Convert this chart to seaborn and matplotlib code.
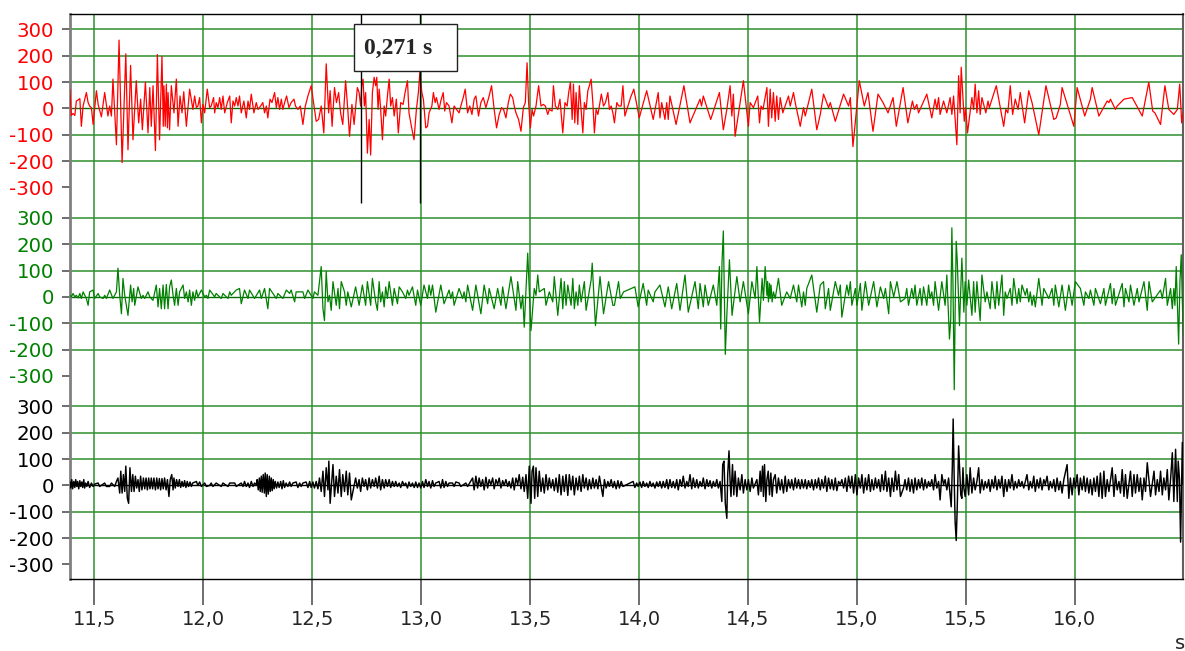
import numpy as np
import matplotlib
matplotlib.use("Agg")
import matplotlib.pyplot as plt
import seaborn as sns
from matplotlib.patches import Rectangle

# ---- readings taken from the recording (time in s, amplitude) ----
red_time = [11.387, 11.394, 11.402, 11.410, 11.417, 11.425, 11.433, 11.440, 11.448, 11.463, 11.471, 11.478, 11.486, 11.494, 11.509, 11.517, 11.532, 11.547, 11.562, 11.570, 11.578, 11.585, 11.601, 11.613, 11.627, 11.644, 11.654, 11.666, 11.677, 11.692, 11.703, 11.712, 11.720, 11.734, 11.746, 11.754, 11.761, 11.769, 11.780, 11.789, 11.799, 11.810, 11.816, 11.819, 11.825, 11.830, 11.835, 11.838, 11.845, 11.853, 11.865, 11.876, 11.884, 11.893, 11.902, 11.910, 11.922, 11.937, 11.952, 11.960, 11.968, 11.975, 11.983, 11.991, 11.998, 12.006, 12.018, 12.029, 12.036, 12.047, 12.052, 12.059, 12.067, 12.075, 12.082, 12.090, 12.098, 12.110, 12.121, 12.128, 12.136, 12.144, 12.151, 12.159, 12.166, 12.174, 12.186, 12.197, 12.205, 12.212, 12.220, 12.232, 12.243, 12.251, 12.263, 12.273, 12.281, 12.289, 12.296, 12.306, 12.315, 12.327, 12.335, 12.342, 12.350, 12.358, 12.365, 12.373, 12.382, 12.393, 12.403, 12.416, 12.423, 12.434, 12.445, 12.457, 12.468, 12.480, 12.495, 12.510, 12.518, 12.529, 12.541, 12.553, 12.564, 12.575, 12.582, 12.591, 12.602, 12.611, 12.621, 12.630, 12.640, 12.653, 12.663, 12.671, 12.682,
            12.692, 12.707, 12.715, 12.722, 12.727, 12.733, 12.739, 12.745, 12.753, 12.761, 12.768, 12.776, 12.784, 12.791, 12.796, 12.802, 12.807, 12.814, 12.822, 12.830, 12.837, 12.845, 12.853, 12.860, 12.868, 12.876, 12.886, 12.895, 12.906, 12.917, 12.926, 12.937, 12.944, 12.955, 12.967, 12.978, 12.987, 12.994, 13.003, 13.010, 13.021, 13.029, 13.036, 13.049, 13.056, 13.064, 13.070, 13.082, 13.090, 13.101, 13.108, 13.116, 13.128, 13.141, 13.151, 13.162, 13.174, 13.182, 13.193, 13.202, 13.213, 13.223, 13.233, 13.243, 13.251, 13.263, 13.274, 13.285, 13.297, 13.312, 13.323, 13.335, 13.346, 13.358, 13.369, 13.378, 13.389, 13.400, 13.409, 13.420, 13.427, 13.435, 13.447, 13.458, 13.469, 13.478, 13.486, 13.493, 13.501, 13.509, 13.516, 13.527, 13.539, 13.550, 13.561, 13.570, 13.581, 13.588, 13.601, 13.607, 13.616, 13.627, 13.637, 13.650, 13.660, 13.670, 13.677, 13.685, 13.693, 13.699, 13.705, 13.711, 13.719, 13.726, 13.734, 13.742, 13.749, 13.757, 13.765, 13.772, 13.780, 13.788, 13.795, 13.803, 13.811, 13.818, 13.827, 13.837, 13.846, 13.857, 13.864, 13.872, 13.880, 13.887, 13.898, 13.907, 13.918, 13.926,
            13.935, 13.961, 13.976, 14.001, 14.035, 14.065, 14.088, 14.096, 14.104, 14.119, 14.127, 14.134, 14.142, 14.170, 14.206, 14.234, 14.280, 14.287, 14.295, 14.329, 14.369, 14.387, 14.403, 14.418, 14.426, 14.433, 14.441, 14.479, 14.502, 14.510, 14.525, 14.545, 14.553, 14.560, 14.569, 14.587, 14.594, 14.602, 14.609, 14.617, 14.625, 14.632, 14.640, 14.648, 14.660, 14.686, 14.694, 14.709, 14.717, 14.740, 14.755, 14.763, 14.793, 14.816, 14.832, 14.847, 14.870, 14.878, 14.901, 14.939, 14.962, 14.970, 14.982, 15.011, 15.034, 15.051, 15.074, 15.097, 15.120, 15.143, 15.166, 15.181, 15.212,
            15.234, 15.255, 15.264, 15.275, 15.283, 15.321, 15.344, 15.359, 15.367, 15.375, 15.382, 15.398, 15.413, 15.428, 15.436, 15.444, 15.459, 15.467, 15.474, 15.479, 15.493, 15.499, 15.508, 15.528, 15.536, 15.543, 15.551, 15.559, 15.566, 15.574, 15.592, 15.602, 15.608, 15.640, 15.674, 15.684, 15.693, 15.704, 15.715, 15.727, 15.740, 15.750, 15.770, 15.789, 15.804, 15.835, 15.868, 15.904, 15.915, 15.934, 15.942, 15.996, 16.011, 16.046, 16.072, 16.080, 16.111, 16.149, 16.157, 16.164, 16.187, 16.195, 16.226, 16.264, 16.310, 16.328, 16.340, 16.358, 16.368, 16.394, 16.414, 16.432, 16.455, 16.471, 16.482, 16.491, 16.506]
red_amp = [73, -27, -19, -27, 28, 32, 37, -68, 9, 60, 22, 9, 3, -61, 67, 15, -32, 60, -29, 9, -29, 111, -138, 259, -206, 207, -157, 163, -119, 105, -55, 35, -81, 99, -93, 79, -68, 86, -160, 204, -119, 197, -68, 86, -68, 92, -74, 60, -81, 86, -17, 111, -68, 47, -17, 63, -68, 73, -4, 47, 3, 9, 41, -55, 15, -17, 73, 3, 9, 41, -17, 22, 3, 41, -4, 47, -17, 22, 47, -55, 28, 9, 41, 9, 47, -17, 28, -36, 28, -4, 54, -17, 22, -4, 9, 22, -17, 9, -36, 35, 22, 60, 3, 41, -4, 35, -4, 22, 47, 3, 22, 35, 9, -4, 9, -61, 9, 47, 86, -4, -49, -42, 9, -93, 169, -17, 67, -68, 79, 22, 60, -17, -61, 105, -4, -106, 15,
           -61, 79, 60, 9, 86, 111, 9, 60, -170, -42, -177, 60, 118, 86, 118, -4, 73, -4, -119, 9, -29, 47, 111, 9, 41, -29, 35, -93, 22, 15, 60, 105, -17, -68, -119, -4, 60, 137, 60, 35, -74, -68, -17, 9, 60, 22, 41, -4, 28, 60, -10, 22, 9, -55, 9, -4, -17, 9, 41, 73, -17, 9, -23, 35, 47, -29, 22, 41, 3, 47, 86, -4, -74, -23, 3, -4, -36, 22, 54, 41, 9, -17, -42, -87, 3, 22, 173, 22, -74, -4, -29, 9, 86, 9, 15, 9, -23, -4, -10, 86, 9, -4, 35, -93, 22, 9, 60, 99, -42, 92, -55, 60, -61, 86, -4, -93, 22, -4, 67, 86, 111, 22, -93, -4, -23, 9, 54, 9, 22, 60, -4, 9, -17, -55, 22, 9, 9, 86,
           -29, 41, 73, -36, 67, -42, 60, -36, 22, -42, 22, -42, 47, -61, 86, -55, 35, 9, 47, -42, 60, -81, -4, 86, -29, 54, -106, 105, -68, 22, 3, 47, -55, 9, -4, 79, -68, 73, -36, 60, -49, 47, -42, 41, -17, 47, 9, 60, 22, -68, 3, -29, 73, -81, -23, 54, 3, 22, -49, 54, 9, 41, -145, 105, 9, 60, -87, 54, 22, -17, 41, -68, 79,
           -55, 28, -4, 15, -17, 54, -36, 35, -4, 41, -23, 28, -17, 41, -23, 47, -138, 124, -17, 156, -49, 3, -93, 41, -4, 92, -17, 67, -23, 41, -17, 28, 3, 86, -68, -4, -17, 86, -23, 35, -4, 60, -55, 67, 22, -100, 86, -42, -36, 15, 79, -68, 79, -29, 35, 79, -29, 28, 22, 35, -4, 9, 35, 41, -29, 47, 99, -10, -17, -61, 86, -4, -23, -4, 92, -55, 28]

green_time = [11.387, 11.394, 11.402, 11.410, 11.417, 11.425, 11.433, 11.440, 11.448, 11.463, 11.471, 11.478, 11.494, 11.501, 11.517, 11.524, 11.540, 11.547, 11.555, 11.570, 11.585, 11.601, 11.608, 11.616, 11.624, 11.631, 11.639, 11.654, 11.666, 11.673, 11.680, 11.685, 11.700, 11.715, 11.723, 11.731, 11.746, 11.754, 11.769, 11.784, 11.792, 11.799, 11.807, 11.815, 11.822, 11.830, 11.838, 11.845, 11.853, 11.861, 11.868, 11.876, 11.884, 11.891, 11.907, 11.914, 11.922, 11.930, 11.937, 11.945, 11.952, 11.960, 11.968, 11.975, 11.991, 12.006, 12.014, 12.021, 12.029, 12.052, 12.059, 12.082, 12.090, 12.113, 12.121, 12.128, 12.151, 12.166, 12.174, 12.189, 12.205, 12.212, 12.235, 12.258, 12.266, 12.281, 12.296, 12.304, 12.335, 12.342, 12.365, 12.381, 12.396, 12.403, 12.419, 12.426, 12.457, 12.465, 12.480, 12.503, 12.510, 12.526, 12.533, 12.541, 12.549, 12.556, 12.564, 12.572, 12.579, 12.587, 12.595, 12.610, 12.618, 12.625, 12.633, 12.648, 12.656, 12.663, 12.679,
              12.699, 12.715, 12.730, 12.745, 12.753, 12.768, 12.776, 12.791, 12.799, 12.807, 12.814, 12.822, 12.830, 12.837, 12.845, 12.853, 12.868, 12.876, 12.891, 12.899, 12.914, 12.929, 12.937, 12.944, 12.960, 12.975, 12.983, 12.998, 13.013, 13.029, 13.036, 13.044, 13.052, 13.067, 13.090, 13.105, 13.128, 13.136, 13.144, 13.151, 13.174, 13.190, 13.197, 13.205, 13.213, 13.236, 13.251, 13.274, 13.289, 13.305, 13.312, 13.335, 13.351, 13.366, 13.374, 13.389, 13.412, 13.435, 13.443, 13.458, 13.466, 13.473, 13.489, 13.504, 13.519, 13.527, 13.535, 13.542, 13.565, 13.573, 13.588, 13.604, 13.611, 13.627, 13.642, 13.650, 13.657, 13.665, 13.673, 13.688, 13.696, 13.703, 13.711, 13.719, 13.726, 13.734, 13.749, 13.757, 13.780, 13.785, 13.800, 13.821, 13.837, 13.860, 13.880, 13.887, 13.906, 13.914, 13.929,
              13.981, 13.996, 14.019, 14.035, 14.042, 14.065, 14.073, 14.096, 14.119, 14.134, 14.150, 14.173, 14.188, 14.211, 14.226, 14.257, 14.272, 14.280, 14.295, 14.303, 14.318, 14.341, 14.357, 14.369, 14.375, 14.381, 14.387, 14.396, 14.403, 14.415, 14.427, 14.449, 14.464, 14.479, 14.502, 14.518, 14.533, 14.541, 14.553, 14.565, 14.571, 14.579, 14.587, 14.590, 14.594, 14.599, 14.602, 14.606, 14.611, 14.617, 14.625, 14.640, 14.655, 14.678, 14.694, 14.709, 14.724, 14.732, 14.747, 14.755, 14.763, 14.770, 14.793, 14.816, 14.832, 14.847, 14.855, 14.870, 14.878, 14.901, 14.916, 14.924, 14.931, 14.954, 14.962, 14.970, 14.977, 14.993, 15.000, 15.016, 15.023, 15.039, 15.054, 15.077, 15.092, 15.108, 15.123, 15.131, 15.146, 15.154, 15.169, 15.184, 15.200,
              15.221, 15.229, 15.237, 15.252, 15.260, 15.267, 15.275, 15.290, 15.298, 15.306, 15.321, 15.329, 15.336, 15.344, 15.352, 15.359, 15.375, 15.390, 15.405, 15.413, 15.425, 15.431, 15.436, 15.441, 15.447, 15.451, 15.456, 15.461, 15.471, 15.482, 15.491, 15.497, 15.505, 15.513, 15.528, 15.536, 15.543, 15.551, 15.566, 15.574, 15.589, 15.597, 15.612, 15.620, 15.635, 15.643, 15.651, 15.666, 15.674, 15.681, 15.689, 15.704, 15.712, 15.720, 15.735, 15.743, 15.750, 15.758, 15.773, 15.781, 15.789, 15.796, 15.804, 15.812, 15.819, 15.835, 15.850, 15.858, 15.881, 15.896, 15.904, 15.911, 15.927, 15.942, 15.957, 15.973, 15.988, 16.003, 16.026, 16.042, 16.049, 16.065, 16.072, 16.088, 16.095, 16.118, 16.134, 16.141, 16.164, 16.172, 16.180, 16.187, 16.218, 16.226, 16.233, 16.249, 16.256, 16.272, 16.287, 16.295, 16.318, 16.333, 16.341, 16.356, 16.394, 16.402, 16.417, 16.425, 16.440, 16.448, 16.455, 16.460, 16.466, 16.477, 16.483, 16.489, 16.498, 16.503]
green_amp = [6, 0, 13, 0, 6, -4, 13, -6, 19, -6, -32, 19, 26, -6, 13, 0, -6, 6, -6, 26, -6, 19, 109, 6, -64, 70, 6, -70, 45, -19, 32, -32, 38, -6, 6, -6, 19, 0, -13, 45, -38, 32, -45, 45, -45, 47, -45, 38, 64, 6, -32, 32, -32, 19, 45, -6, 19, -19, 26, -32, 19, -13, 26, 0, 26, 0, 6, -6, 26, 0, 13, -6, 13, -6, 19, 6, 26, 32, -26, 26, -6, 26, -6, 26, -6, 32, -45, 32, -6, 13, -6, 26, 13, 26, -19, 19, 19, -6, 26, -6, 19, 6, 58, 115, -45, -90, 96, -19, 6, -51, 58, -32, 32, -45, 58, 19, -32, 19, -38,
             38, -32, 45, -32, 58, -32, 70, -19, -51, 58, -19, 19, -38, 38, -6, 58, -32, 32, -26, 38, 19, -6, 26, 6, 38, -32, 26, -32, 45, -6, 45, 6, 45, -58, 45, -26, 26, -6, 19, -32, 32, -6, 19, -19, 45, -51, 45, -64, 45, -26, 32, -45, 32, -32, 38, -45, 77, -51, 58, -45, 6, -115, 166, -128, 32, 6, 83, 19, 32, -32, 19, -19, 77, -70, 70, -45, 58, -32, 45, -32, 70, -45, 19, -32, 45, -19, 58, -51, 64, 128, -109, 77, -64, 58, -32, -32, 58, -6, 19,
             38, -38, 51, -32, 26, -19, 19, 45, -38, 38, -45, 51, -51, 83, -58, 58, -45, 51, -38, 45, -32, 45, -32, 115, -122, 134, 250, -218, -70, 141, -70, 77, -19, 58, -64, 58, -6, 115, -96, 70, -13, 115, 6, 58, -19, 51, -6, 45, -19, 19, -6, 70, -32, 19, -6, 45, -19, 45, -38, 19, -32, 32, 83, -58, 45, 58, -45, 32, -51, 58, 6, 45, -77, 45, 6, 58, -32, 32, -32, 51, -51, 58, -32, 58, -38, 38, -6, 32, -64, 58, 0, 58, -19,
             -6, 32, -32, 32, -6, 45, -32, 32, -32, 38, -32, 45, -6, 19, -32, 58, -51, 58, -32, 83, -160, -83, 262, 58, -352, -58, 211, 134, -109, 147, -58, 58, -32, 64, -70, 58, -58, 58, -90, 83, -19, 19, -45, 58, -45, 58, -32, 83, -70, 19, -6, 32, -32, 70, -26, 32, -19, 45, 6, 32, -19, 19, -32, 6, -38, 70, -32, 32, -6, 32, -32, 45, -38, 45, -51, 45, -32, 58, 32, -32, 19, -6, 26, -32, 32, -26, 32, -32, 51, -26, 32, -32, 51, -38, 32, -19, 45, -32, 32, -19, 58, -51, 58, -19, 26, -6, 70, -32, 32, -45, 32, -32, 115, -179, 58, 160, -147, 58]

black_time = [11.387, 11.391, 11.396, 11.400, 11.405, 11.410, 11.414, 11.419, 11.423, 11.428, 11.433, 11.437, 11.442, 11.446, 11.451, 11.455, 11.460, 11.465, 11.471, 11.478, 11.486, 11.494, 11.501, 11.517, 11.524, 11.540, 11.547, 11.555, 11.570, 11.578, 11.593, 11.601, 11.608, 11.616, 11.621, 11.627, 11.633, 11.639, 11.644, 11.651, 11.657, 11.663, 11.670, 11.676, 11.682, 11.688, 11.694, 11.700, 11.706, 11.712, 11.718, 11.725, 11.731, 11.737, 11.743, 11.749, 11.755, 11.761, 11.767, 11.773, 11.780, 11.786, 11.792, 11.798, 11.804, 11.810, 11.816, 11.822, 11.829, 11.835, 11.842, 11.848, 11.855, 11.861, 11.865, 11.871, 11.877, 11.884, 11.890, 11.896, 11.902, 11.908, 11.914, 11.920, 11.926, 11.932, 11.939, 11.945, 11.951, 11.968, 11.975, 11.983, 11.991, 12.006, 12.014, 12.029, 12.036, 12.044, 12.059, 12.082, 12.090, 12.113, 12.121, 12.144, 12.151, 12.174, 12.182, 12.189, 12.197, 12.205, 12.212, 12.220, 12.228, 12.235, 12.243, 12.247, 12.252, 12.257, 12.261, 12.266, 12.270, 12.275, 12.280, 12.284, 12.289, 12.293, 12.298, 12.303, 12.307, 12.312, 12.316, 12.321, 12.325, 12.330, 12.336, 12.342, 12.348, 12.355, 12.361, 12.367, 12.373, 12.380, 12.388, 12.396, 12.403, 12.411, 12.426, 12.434, 12.442, 12.449, 12.457, 12.472, 12.480, 12.488, 12.495, 12.503, 12.510, 12.518, 12.526, 12.533, 12.541, 12.549, 12.556, 12.564, 12.572, 12.576, 12.582, 12.595, 12.602, 12.610, 12.618, 12.625, 12.633, 12.640, 12.648, 12.656, 12.663, 12.671, 12.679,
              12.699, 12.707, 12.715, 12.722, 12.730, 12.738, 12.745, 12.753, 12.761, 12.768, 12.776, 12.784, 12.791, 12.799, 12.807, 12.814, 12.822, 12.830, 12.837, 12.845, 12.853, 12.860, 12.868, 12.876, 12.883, 12.891, 12.899, 12.906, 12.914, 12.922, 12.929, 12.937, 12.944, 12.952, 12.960, 12.968, 12.975, 12.983, 12.990, 12.998, 13.006, 13.013, 13.021, 13.029, 13.036, 13.044, 13.052, 13.059, 13.067, 13.082, 13.090, 13.098, 13.105, 13.113, 13.121, 13.128, 13.144, 13.151, 13.159, 13.174, 13.182, 13.205, 13.213, 13.236, 13.243, 13.251, 13.259, 13.266, 13.274, 13.282, 13.289, 13.297, 13.305, 13.312, 13.320, 13.328, 13.335, 13.343, 13.351, 13.358, 13.366, 13.374, 13.381, 13.389, 13.397, 13.404, 13.412, 13.420, 13.427, 13.435, 13.443, 13.450, 13.458, 13.466, 13.473, 13.481, 13.489, 13.496, 13.504, 13.509, 13.515, 13.521, 13.527, 13.535, 13.542, 13.550, 13.558, 13.565, 13.573, 13.581, 13.588, 13.596, 13.604, 13.611, 13.619, 13.627, 13.634, 13.642, 13.650, 13.657, 13.665, 13.673, 13.680, 13.688, 13.696, 13.703, 13.711, 13.719, 13.726, 13.734, 13.742, 13.749, 13.757, 13.765, 13.772, 13.780, 13.788, 13.795, 13.803, 13.811, 13.818, 13.834, 13.841, 13.849, 13.857, 13.864, 13.872, 13.880, 13.887, 13.895, 13.903, 13.910, 13.918, 13.926,
              13.973, 13.981, 13.989, 13.996, 14.004, 14.012, 14.019, 14.027, 14.035, 14.042, 14.050, 14.058, 14.065, 14.073, 14.081, 14.088, 14.096, 14.104, 14.111, 14.119, 14.127, 14.134, 14.142, 14.150, 14.157, 14.165, 14.173, 14.180, 14.188, 14.196, 14.203, 14.211, 14.219, 14.226, 14.234, 14.242, 14.249, 14.257, 14.265, 14.272, 14.280, 14.288, 14.295, 14.303, 14.311, 14.318, 14.326, 14.334, 14.341, 14.349, 14.357, 14.364, 14.372, 14.380, 14.384, 14.390, 14.396, 14.403, 14.407, 14.413, 14.418, 14.422, 14.429, 14.435, 14.441, 14.449, 14.456, 14.464, 14.472, 14.479, 14.487, 14.495, 14.502, 14.510, 14.518, 14.525, 14.541, 14.548, 14.556, 14.560, 14.567, 14.571, 14.576, 14.582, 14.587, 14.593, 14.599, 14.605, 14.611, 14.617, 14.625, 14.632, 14.640, 14.648, 14.655, 14.663, 14.671, 14.678, 14.686, 14.694, 14.701, 14.709, 14.717, 14.724, 14.732, 14.740, 14.747, 14.755, 14.763, 14.770, 14.778, 14.786, 14.793, 14.801, 14.809, 14.816, 14.824, 14.832, 14.839, 14.847, 14.855, 14.862, 14.870, 14.878, 14.885, 14.893, 14.901, 14.908, 14.916, 14.924, 14.931, 14.939, 14.947, 14.954, 14.962, 14.970, 14.977, 14.985, 14.993, 15.000, 15.008, 15.016, 15.023, 15.031, 15.039, 15.046, 15.054, 15.062, 15.069, 15.077, 15.085, 15.092, 15.100, 15.108, 15.115, 15.123, 15.131, 15.138, 15.146, 15.154, 15.161, 15.169, 15.177, 15.184, 15.192, 15.200,
              15.214, 15.221, 15.229, 15.237, 15.244, 15.252, 15.260, 15.267, 15.275, 15.283, 15.290, 15.298, 15.306, 15.313, 15.321, 15.329, 15.336, 15.344, 15.352, 15.359, 15.367, 15.375, 15.382, 15.390, 15.398, 15.405, 15.413, 15.421, 15.428, 15.433, 15.438, 15.442, 15.447, 15.451, 15.456, 15.461, 15.467, 15.471, 15.477, 15.482, 15.487, 15.491, 15.497, 15.505, 15.513, 15.520, 15.528, 15.536, 15.543, 15.551, 15.559, 15.566, 15.574, 15.582, 15.589, 15.597, 15.605, 15.612, 15.620, 15.628, 15.635, 15.643, 15.651, 15.658, 15.666, 15.674, 15.681, 15.689, 15.697, 15.704, 15.712, 15.720, 15.727, 15.735, 15.743, 15.750, 15.758, 15.766, 15.781, 15.789, 15.796, 15.804, 15.812, 15.819, 15.827, 15.835, 15.842, 15.850, 15.858, 15.865, 15.873, 15.881, 15.888, 15.896, 15.904, 15.911, 15.919, 15.927, 15.934, 15.942, 15.950, 15.965, 15.973, 15.980, 15.988, 15.996, 16.003, 16.011, 16.019, 16.026, 16.034, 16.042, 16.049, 16.057, 16.065, 16.072, 16.080, 16.088, 16.095, 16.103, 16.111, 16.118, 16.126, 16.134, 16.141, 16.149, 16.157, 16.172, 16.180, 16.187, 16.195, 16.203, 16.210, 16.218, 16.226, 16.233, 16.241, 16.256, 16.264, 16.272, 16.279, 16.287, 16.295, 16.302, 16.310, 16.318, 16.325, 16.333, 16.348, 16.364, 16.371, 16.379, 16.387, 16.394, 16.402, 16.409, 16.417, 16.425, 16.432, 16.440, 16.448, 16.455, 16.463, 16.471, 16.475, 16.481, 16.486, 16.491, 16.494, 16.498, 16.503]
black_amp = [15, -10, 22, -13, 15, -8, 22, -4, 15, -13, 18, -4, 13, -8, 22, -10, 9, -4, 15, -8, 9, -4, 5, 9, -4, 5, 9, -4, -4, 9, -4, 15, 28, -29, 54, -29, 41, -23, 73, -49, -68, 67, -23, 41, -23, 35, -10, 22, -23, 35, -17, 28, -13, 28, -17, 28, -13, 28, -13, 28, -17, 28, -13, 26, -17, 26, -13, 28, -17, 22, -42, 22, 41, -17, 28, -10, 22, -4, 22, -8, 15, -4, 18, -8, 15, -4, 13, -4, 9, 15, 0, 13, -4, 9, -4, 0, 9, -4, 9, -4, 9, -4, 9, 9, -4, 9, -4, 15, -4, 9, -8, 15, -4, 9, 3, 22, -17, 28, -23, 35, -26, 41, -29, 47, -42, 41, -33, 35, -23, 28, -20, 22, -13, 15, -10, 13, -8, 15, -13, 18, -8, 9, -4, 13, -4, 9, 13, -8, 9, -4, 9, 13, -8, 15, -8, 13, -10, 15, -13, 28, -23, 54, -42, 67, -17, 92, -68, 79, -42, 35, -29, 60, -42, 41, -23, 54, -36, 47, -55,
             28, -10, 22, -23, 28, -4, 22, -17, 28, -10, 22, -4, 28, -10, 35, -17, 22, -10, 22, -4, 22, -8, 15, -4, 15, -4, 9, -8, 15, 0, 9, -10, 13, -4, 9, -8, 13, -8, 9, -10, 15, -8, 22, -4, 15, -10, 18, -4, 9, 15, -10, 22, -8, 15, -4, 9, 9, -4, 13, 9, -4, 9, -4, 28, -17, 35, -10, 28, -4, 22, -17, 31, -10, 22, 3, 28, -13, 22, 3, 28, -10, 18, 0, 22, -4, 15, -10, 28, -17, 28, 3, 41, -13, 31, -23, 41, -49, 73, -68, 54, 73, -49, 67, -42, 54, -23, 28, -29, 41, -17, 28, -10, 22, -20, 28, -26, 41, -36, 35, -23, 41, -38, 41, -17, 35, -36, 28, -17, 35, -23, 41, -10, 28, -17, 22, -13, 28, -10, 22, -13, 35, -42, 22, -10, 15, -4, 22, -8, 15, -13, 18, -10, 15, -4,
             15, -8, 9, -4, 13, -8, 15, -4, 9, -8, 15, -4, 9, -10, 13, -4, 15, -10, 15, -8, 22, -13, 22, -8, 15, -10, 22, -17, 22, -4, 35, -10, 15, -4, 41, -13, 28, -8, 22, -10, 15, -4, 28, -13, 22, -4, 18, -10, 15, -4, 22, -10, 15, -61, 79, 92, -68, -125, 41, 131, 15, -42, 79, -36, 54, -42, 28, -17, 41, -29, 22, -17, 22, -23, 28, -10, 22, -36, 54, -23, 73, -42, 79, -61, 22, 54, -36, 47, -42, 22, 41, -29, 28, -17, 22, -29, 35, -23, 22, -10, 22, -17, 28, -10, 22, -13, 22, -10, 22, -13, 18, -8, 22, -17, 22, -10, 28, -17, 22, -10, 35, -23, 28, -13, 22, -17, 28, -20, 15, 3, 22, -10, 28, -23, 35, -10, 35, -29, 41, -36, 28, -10, 41, -29, 28, -17, 41, -23, 22, -17, 28, -10, 22, -23, 41, -17, 54, -23, 28, -42, 28, -23, 54, -17, 41, -42,
             -10, 22, -17, 28, -23, 22, -29, 28, -17, 22, -10, 28, -17, 22, -10, 15, -4, 22, -17, 41, -10, 15, -55, 41, 3, 22, -17, 28, -36, -81, 67, 252, 15, -138, -209, -74, 150, 79, -36, -49, 67, -10, -42, 41, -36, 67, -29, 28, -17, 15, 67, -29, 22, -17, 15, -10, 22, -23, 22, -10, 35, -17, 22, -10, 35, -42, 22, -23, 22, -10, 41, -17, 15, -10, 22, -4, 15, -10, 41, -17, 15, -10, 35, -23, 22, -10, 28, -17, 22, 3, 35, -17, 15, -10, 22, -23, 28, -17, 15, -29, 22, 79, -49, 28, -36, 28, -10, 41, -36, 28, -17, 35, -23, 28, -29, 22, -36, 28, -23, 35, -42, 47, -49, 54, -42, 22, -23, 67, -42, 41, -17, 15, -29, 60, -42, 41, -49, 54, -42, 41, -29, 41, -23, 28, -55, 28, -23, 86, -42, 54, -36, 22, -23, 54, -36, 28, -17, 60, -55, 22, 124, -61, 137, -61, 92, 22, -215, 28, 163, 3, 169]

# band layout: each channel has its own 0 line
band_offset = {"red": 1430, "green": 715, "black": 0}
band_color = {"red": "#ff0000", "green": "#008000", "black": "#000000"}
band_lw = {"red": 0.9, "green": 0.9, "black": 1.05}
tick_values = [300, 200, 100, 0, -100, -200, -300]
x_ticks = [11.5, 12.0, 12.5, 13.0, 13.5, 14.0, 14.5, 15.0, 15.5, 16.0]
cursor_times = [12.724, 12.995]

sns.set_style("white")
plt.rcParams["font.family"] = ["DejaVu Sans"]

fig = plt.figure(figsize=(11.85, 6.51), dpi=100)
ax = fig.add_axes([0.0591, 0.1106, 0.9392, 0.8679])
ax.set_xlim(11.388, 16.497)
ax.set_ylim(-355, 1788)

grid_green = "#2f8f2f"
for name, off in band_offset.items():
    for v in (-200, -100, 100, 200, 300):
        ax.axhline(off + v, color=grid_green, lw=1.1, zorder=1)
    ax.axhline(off, color="#000000" if name == "black" else "#0b6b0b", lw=1.0, zorder=1)
for t in x_ticks:
    ax.axvline(t, color=grid_green, lw=1.1, zorder=1)

traces = {"red": (red_time, red_amp), "green": (green_time, green_amp), "black": (black_time, black_amp)}
for name, (tt, vv) in traces.items():
    sns.lineplot(x=tt, y=np.array(vv) + band_offset[name], ax=ax, color=band_color[name],
                 lw=band_lw[name], estimator=None, sort=False, zorder=3)

# cursor lines and measured interval
ax.vlines(cursor_times, 1071, 1788, color="black", lw=1.0, zorder=4)
ax.add_patch(Rectangle((12.690, 1572), 0.474, 178, facecolor="white", edgecolor="#222222",
                       lw=1.0, zorder=5))
ax.text(12.738, 1656, "0,271 s", ha="left", va="center", fontsize=17, fontweight="bold",
        family="Liberation Serif", zorder=6)

# y ticks: one scale per band, coloured like the trace
yt, yl, yc = [], [], []
for name, off in band_offset.items():
    for v in tick_values:
        yt.append(off + v)
        yl.append(str(v))
        yc.append(band_color[name])
ax.set_yticks(yt)
ax.set_yticklabels(yl)
for lab, c in zip(ax.get_yticklabels(), yc):
    lab.set_color(c)

ax.set_xticks(x_ticks)
ax.set_xticklabels([f"{t:.1f}".replace(".", ",") for t in x_ticks])
ax.tick_params(axis="x", direction="out", length=18.7, width=1.2, color="#555555",
               pad=3.5, labelsize=14, bottom=True)
ax.tick_params(axis="y", direction="out", length=5.8, width=1.2, color="#555555",
               pad=6.0, labelsize=14.2, left=True)
ax.grid(False)

ax.spines["left"].set_color("#808080")
ax.spines["left"].set_linewidth(2.0)
ax.spines["top"].set_color("black")
ax.spines["top"].set_linewidth(1.0)
ax.spines["bottom"].set_color("black")
ax.spines["bottom"].set_linewidth(1.0)
ax.spines["right"].set_color("#606060")
ax.spines["right"].set_linewidth(1.5)

fig.text(0.9955, 0.003, "s", ha="center", va="baseline", fontsize=14)

fig.savefig("out.png", dpi=100)
